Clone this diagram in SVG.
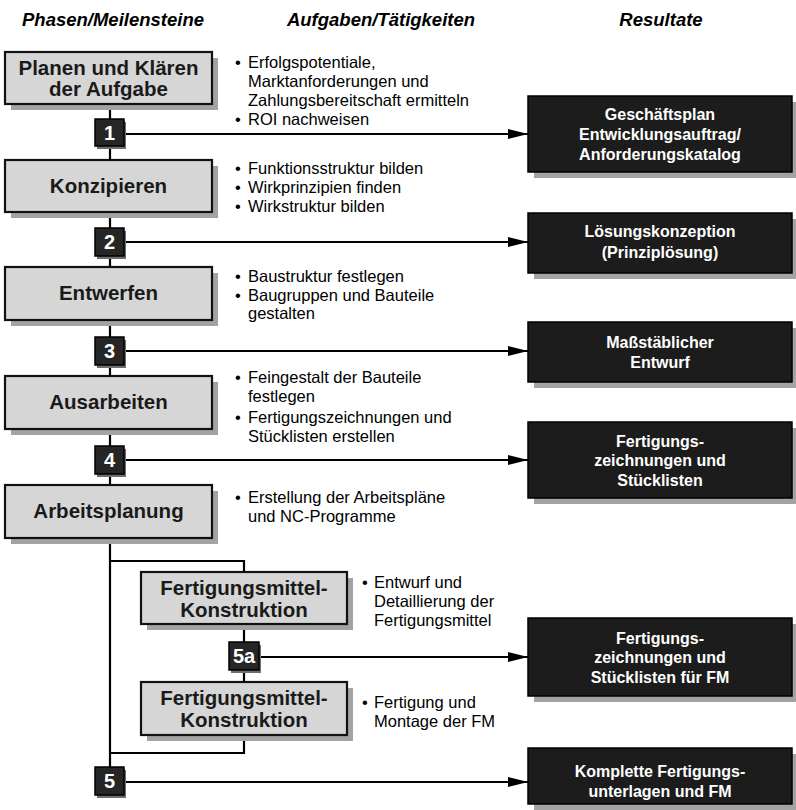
<svg xmlns="http://www.w3.org/2000/svg" width="796" height="810" viewBox="0 0 796 810">
<style>
.hdr{font-family:"Liberation Sans",Arial,sans-serif;font-weight:bold;font-style:italic;font-size:18.5px;fill:#000;text-anchor:middle}
.ph{font-family:"Liberation Sans",Arial,sans-serif;font-weight:bold;font-size:20.5px;fill:#1a1a1a;text-anchor:middle}
.box{fill:#d6d6d6;stroke:#111;stroke-width:2.2}
.shd{fill:#a3a3a3}
.ms{fill:#262626;stroke:#000;stroke-width:1.5}
.msh{fill:#6e6e6e}
.mt{font-family:"Liberation Sans",Arial,sans-serif;font-weight:bold;font-size:20px;fill:#fff;text-anchor:middle}
.res{fill:#1c1c1c;stroke:#000;stroke-width:1.5}
.rt{font-family:"Liberation Sans",Arial,sans-serif;font-weight:bold;font-size:16px;fill:#fff;text-anchor:middle}
.ds{font-family:"Liberation Sans",Arial,sans-serif;font-size:16.5px;fill:#000}
.ln{fill:none;stroke:#000;stroke-width:2.2}
</style>
<defs>
<marker id="arr" markerWidth="20" markerHeight="10" refX="20" refY="5" orient="auto" markerUnits="userSpaceOnUse">
<path d="M0,0 L20,5 L0,10 Z" fill="#000"/>
</marker>
</defs>

<g id="headers">
<text class="hdr" x="113" y="26">Phasen/Meilensteine</text>
<text class="hdr" x="381" y="26">Aufgaben/Tätigkeiten</text>
<text class="hdr" x="661" y="26">Resultate</text>
</g>

<g id="connectors">
<line class="ln" x1="110" y1="104" x2="110" y2="768"/>
<polyline class="ln" points="110,561 244,561 244,753 110,753"/>
<line class="ln" x1="124" y1="134" x2="528" y2="134" marker-end="url(#arr)"/>
<line class="ln" x1="124" y1="242" x2="528" y2="242" marker-end="url(#arr)"/>
<line class="ln" x1="124" y1="351" x2="528" y2="351" marker-end="url(#arr)"/>
<line class="ln" x1="124" y1="460" x2="528" y2="460" marker-end="url(#arr)"/>
<line class="ln" x1="259" y1="657" x2="528" y2="657" marker-end="url(#arr)"/>
<line class="ln" x1="124" y1="782" x2="528" y2="782" marker-end="url(#arr)"/>
</g>

<g id="phase-planen">
<rect class="shd" x="11" y="58" width="207" height="52"/>
<rect class="box" x="5" y="52" width="207" height="52"/>
<text class="ph" x="108.5" y="75">Planen und Klären</text>
<text class="ph" x="108.5" y="96">der Aufgabe</text>
</g>
<g id="phase-konzipieren">
<rect class="shd" x="11" y="166" width="207" height="52"/>
<rect class="box" x="5" y="160" width="207" height="52"/>
<text class="ph" x="108.5" y="193">Konzipieren</text>
</g>
<g id="phase-entwerfen">
<rect class="shd" x="11" y="273" width="207" height="53"/>
<rect class="box" x="5" y="267" width="207" height="53"/>
<text class="ph" x="108.5" y="300">Entwerfen</text>
</g>
<g id="phase-ausarbeiten">
<rect class="shd" x="11" y="382" width="207" height="53"/>
<rect class="box" x="5" y="376" width="207" height="53"/>
<text class="ph" x="108.5" y="409">Ausarbeiten</text>
</g>
<g id="phase-arbeitsplanung">
<rect class="shd" x="11" y="491" width="207" height="53"/>
<rect class="box" x="5" y="485" width="207" height="53"/>
<text class="ph" x="108.5" y="518">Arbeitsplanung</text>
</g>
<g id="phase-fm1">
<rect class="shd" x="147" y="578" width="206" height="52"/>
<rect class="box" x="141" y="572" width="206" height="52"/>
<text class="ph" x="244" y="595">Fertigungsmittel-</text>
<text class="ph" x="244" y="617">Konstruktion</text>
</g>
<g id="phase-fm2">
<rect class="shd" x="147" y="688" width="206" height="53"/>
<rect class="box" x="141" y="682" width="206" height="53"/>
<text class="ph" x="244" y="705">Fertigungsmittel-</text>
<text class="ph" x="244" y="727">Konstruktion</text>
</g>

<g id="milestone-1">
<rect class="msh" x="97" y="122" width="29" height="27"/>
<rect class="ms" x="95" y="119" width="29" height="27"/>
<text class="mt" x="109.5" y="140">1</text>
</g>
<g id="milestone-2">
<rect class="msh" x="97" y="231" width="29" height="28"/>
<rect class="ms" x="95" y="228" width="29" height="28"/>
<text class="mt" x="109.5" y="249">2</text>
</g>
<g id="milestone-3">
<rect class="msh" x="97" y="340" width="29" height="28"/>
<rect class="ms" x="95" y="337" width="29" height="28"/>
<text class="mt" x="109.5" y="358">3</text>
</g>
<g id="milestone-4">
<rect class="msh" x="97" y="449" width="29" height="28"/>
<rect class="ms" x="95" y="446" width="29" height="28"/>
<text class="mt" x="109.5" y="467">4</text>
</g>
<g id="milestone-5a">
<rect class="msh" x="231" y="645" width="30" height="28"/>
<rect class="ms" x="229" y="642" width="30" height="28"/>
<text class="mt" x="244" y="663">5a</text>
</g>
<g id="milestone-5">
<rect class="msh" x="97" y="770" width="29" height="28"/>
<rect class="ms" x="95" y="767" width="29" height="28"/>
<text class="mt" x="109.5" y="788">5</text>
</g>

<g id="tasks-planen" class="ds">
<text x="235" y="68">•</text><text x="248" y="68">Erfolgspotentiale,</text>
<text x="248" y="87">Marktanforderungen und</text>
<text x="248" y="106">Zahlungsbereitschaft ermitteln</text>
<text x="235" y="125">•</text><text x="248" y="125">ROI nachweisen</text>
</g>
<g id="tasks-konzipieren" class="ds">
<text x="235" y="174">•</text><text x="248" y="174">Funktionsstruktur bilden</text>
<text x="235" y="193">•</text><text x="248" y="193">Wirkprinzipien finden</text>
<text x="235" y="212">•</text><text x="248" y="212">Wirkstruktur bilden</text>
</g>
<g id="tasks-entwerfen" class="ds">
<text x="235" y="282">•</text><text x="248" y="282">Baustruktur festlegen</text>
<text x="235" y="301">•</text><text x="248" y="301">Baugruppen und Bauteile</text>
<text x="248" y="319">gestalten</text>
</g>
<g id="tasks-ausarbeiten" class="ds">
<text x="235" y="383">•</text><text x="248" y="383">Feingestalt der Bauteile</text>
<text x="248" y="402">festlegen</text>
<text x="235" y="423">•</text><text x="248" y="423">Fertigungszeichnungen und</text>
<text x="248" y="442">Stücklisten erstellen</text>
</g>
<g id="tasks-arbeitsplanung" class="ds">
<text x="235" y="503">•</text><text x="248" y="503">Erstellung der Arbeitspläne</text>
<text x="248" y="522">und NC-Programme</text>
</g>
<g id="tasks-fm1" class="ds">
<text x="362" y="588">•</text><text x="374" y="588">Entwurf und</text>
<text x="374" y="607">Detaillierung der</text>
<text x="374" y="626">Fertigungsmittel</text>
</g>
<g id="tasks-fm2" class="ds">
<text x="362" y="708">•</text><text x="374" y="708">Fertigung und</text>
<text x="374" y="727">Montage der FM</text>
</g>

<g id="result-1">
<rect class="shd" x="534" y="102" width="264" height="76"/>
<rect class="res" x="528" y="96" width="264" height="76"/>
<text class="rt" x="660" y="120">Geschäftsplan</text>
<text class="rt" x="660" y="140">Entwicklungsauftrag/</text>
<text class="rt" x="660" y="160">Anforderungskatalog</text>
</g>
<g id="result-2">
<rect class="shd" x="534" y="219" width="264" height="60"/>
<rect class="res" x="528" y="213" width="264" height="60"/>
<text class="rt" x="660" y="237">Lösungskonzeption</text>
<text class="rt" x="660" y="258">(Prinziplösung)</text>
</g>
<g id="result-3">
<rect class="shd" x="534" y="328" width="264" height="60"/>
<rect class="res" x="528" y="322" width="264" height="60"/>
<text class="rt" x="660" y="348">Maßstäblicher</text>
<text class="rt" x="660" y="368">Entwurf</text>
</g>
<g id="result-4">
<rect class="shd" x="534" y="428" width="264" height="76"/>
<rect class="res" x="528" y="422" width="264" height="76"/>
<text class="rt" x="660" y="447">Fertigungs-</text>
<text class="rt" x="660" y="466">zeichnungen und</text>
<text class="rt" x="660" y="486">Stücklisten</text>
</g>
<g id="result-5a">
<rect class="shd" x="534" y="624" width="264" height="78"/>
<rect class="res" x="528" y="618" width="264" height="78"/>
<text class="rt" x="660" y="644">Fertigungs-</text>
<text class="rt" x="660" y="663">zeichnungen und</text>
<text class="rt" x="660" y="683">Stücklisten für FM</text>
</g>
<g id="result-5">
<rect class="shd" x="534" y="754" width="264" height="56"/>
<rect class="res" x="528" y="748" width="264" height="56"/>
<text class="rt" x="660" y="777">Komplette Fertigungs-</text>
<text class="rt" x="660" y="797">unterlagen und FM</text>
</g>
</svg>
